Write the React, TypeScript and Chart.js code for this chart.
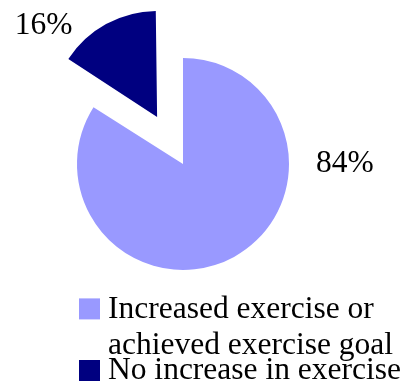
import React, { useEffect, useRef } from "react";
import { Chart, registerables } from "chart.js";

Chart.register(...registerables);

// ---- data ----
const categories: string[][] = [
  ["Increased exercise or", "achieved exercise goal"],
  ["No increase in exercise"],
];
const values: number[] = [84, 16];

// ---- styles ----
const colors = ["#9999ff", "#000080"];
const sliceOffsets = [0, 215]; // Chart.js translates an arc by offset/4
const labelAngles = [93, 306]; // degrees clockwise from 12 o'clock
const labelDistances = [1.53, 1.323]; // multiples of radius
const FONT = '"Liberation Serif", "Times New Roman", serif';
const FONT_SIZE = 31.5;

const explodeFix = {
  id: "explodeFix",
  beforeDatasetDraw(chart: any, args: any) {
    const meta = chart.getDatasetMeta(args.index);
    const R = (meta.controller as any).outerRadius;
    meta.data.forEach((arc: any) => {
      const off = arc.options.offset || 0;
      if (!off) return;
      const fix = 1 - Math.sin(Math.min(Math.PI, arc.circumference));
      arc.outerRadius = R - (off / 4) * fix;
    });
  },
};

const pctLabels = {
  id: "pctLabels",
  afterDatasetsDraw(chart: any) {
    const meta = chart.getDatasetMeta(0);
    const R = (meta.controller as any).outerRadius;
    const data = chart.data.datasets[0].data as number[];
    const total = data.reduce((a, b) => a + b, 0);
    const ctx = chart.ctx;
    ctx.save();
    ctx.font = `${FONT_SIZE}px ${FONT}`;
    ctx.fillStyle = "#000";
    ctx.textAlign = "center";
    ctx.textBaseline = "alphabetic";
    meta.data.forEach((arc: any, i: number) => {
      const off = (arc.options.offset || 0) / 4;
      const half = (arc.startAngle + arc.endAngle) / 2;
      const cx = arc.x + Math.cos(half) * off;
      const cy = arc.y + Math.sin(half) * off;
      const a = (labelAngles[i] * Math.PI) / 180;
      const d = labelDistances[i] * R;
      const x = cx + Math.sin(a) * d;
      const y = cy - Math.cos(a) * d;
      const pct = Math.round((data[i] / total) * 100);
      ctx.fillText(`${pct}%`, x, y);
    });
    ctx.restore();
  },
};

const legendPlugin = {
  id: "customLegend",
  afterDraw(chart: any) {
    const ctx = chart.ctx;
    const labels = chart.data.labels as string[][];
    const bg = chart.data.datasets[0].backgroundColor as string[];
    const left = 79;
    const box = 21;
    const textX = 108;
    const lineH = 36.3;
    const pitchPerLine = 30.8;
    let baseline = 317.7;
    ctx.save();
    ctx.font = `${FONT_SIZE}px ${FONT}`;
    ctx.textAlign = "left";
    ctx.textBaseline = "alphabetic";
    labels.forEach((lines, i) => {
      ctx.fillStyle = bg[i];
      ctx.fillRect(left, baseline - 19.3, box, box);
      ctx.fillStyle = "#000";
      lines.forEach((ln, j) => ctx.fillText(ln, textX, baseline + j * lineH));
      baseline += lines.length * pitchPerLine;
    });
    ctx.restore();
  },
};

export default function App() {
  const ref = useRef<HTMLCanvasElement>(null);
  useEffect(() => {
    if (!ref.current) return;
    const chart = new Chart(ref.current, {
      type: "pie",
      data: {
        labels: categories as any,
        datasets: [
          {
            data: values,
            backgroundColor: colors,
            borderWidth: 0,
            offset: sliceOffsets,
            hoverOffset: 0,
          } as any,
        ],
      },
      options: {
        animation: false,
        responsive: false,
        devicePixelRatio: 1,
        radius: 106,
        layout: { padding: { left: 0, right: 47, top: 0, bottom: 57 } },
        plugins: {
          legend: { display: false },
          tooltip: { enabled: false },
        },
        events: [],
      } as any,
      plugins: [explodeFix, pctLabels, legendPlugin],
    });
    return () => chart.destroy();
  }, []);
  return (
    <div style={{ position: "absolute", left: 0, top: 0, width: 413, height: 385, background: "#fff" }}>
      <canvas ref={ref} width={413} height={385} style={{ display: "block" }} />
    </div>
  );
}
